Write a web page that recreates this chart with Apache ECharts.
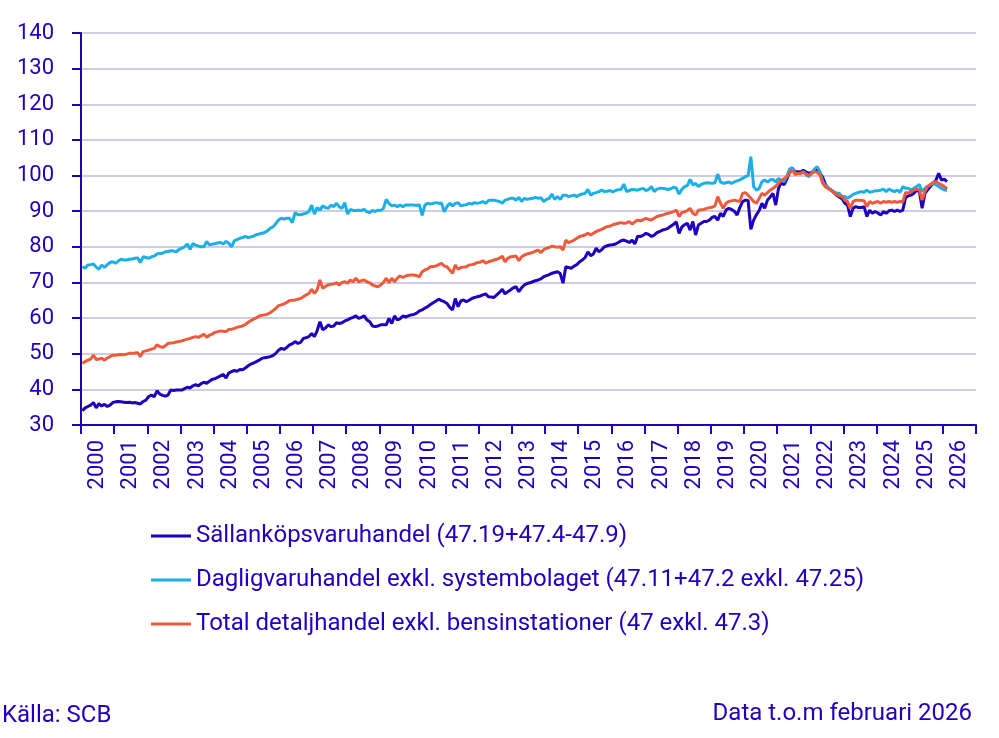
<!DOCTYPE html>
<html>
<head>
<meta charset="utf-8">
<script src="https://cdn.jsdelivr.net/npm/echarts@6/dist/echarts.min.js"></script>
<style>
html,body{margin:0;padding:0;background:#fff;}
#chart{width:999px;height:738px;}
</style>
</head>
<body>
<div id="chart"></div>
<script>
const years = ['2000','2001','2002','2003','2004','2005','2006','2007','2008','2009','2010','2011','2012','2013','2014','2015','2016','2017','2018','2019','2020','2021','2022','2023','2024','2025','2026'];

const seriesNames = [
  'Sällanköpsvaruhandel (47.19+47.4-47.9)',
  'Dagligvaruhandel exkl. systembolaget (47.11+47.2 exkl. 47.25)',
  'Total detaljhandel exkl. bensinstationer (47 exkl. 47.3)'
];

// Monthly index values, Jan 2000 - Feb 2026 (one line per year)
const sallankop = [
  34.0, 34.8, 35.2, 35.6, 36.3, 34.8, 36.0, 35.3, 35.8, 35.2, 35.6, 36.3,
  36.5, 36.6, 36.5, 36.4, 36.3, 36.4, 36.2, 36.3, 36.1, 35.9, 36.6, 37.0,
  38.0, 38.4, 37.9, 39.6, 38.7, 38.3, 38.1, 38.4, 39.8, 39.7, 39.8, 39.8,
  39.8, 40.2, 40.6, 40.4, 41.0, 41.3, 41.0, 41.6, 42.0, 41.7, 42.3, 42.8,
  43.0, 43.4, 43.8, 44.2, 43.2, 44.6, 45.0, 45.3, 45.1, 45.6, 45.5, 46.0,
  46.6, 47.1, 47.4, 47.8, 48.2, 48.7, 48.9, 49.0, 49.2, 49.5, 50.1, 51.0,
  51.5, 51.2, 51.8, 52.5, 52.8, 53.4, 52.9, 53.2, 54.3, 54.5, 54.8, 55.7,
  54.8, 56.5, 59.0, 56.7, 57.2, 58.1, 57.6, 57.8, 58.7, 58.5, 58.7, 59.2,
  59.5, 59.9, 60.2, 60.6, 59.9, 60.2, 60.6, 59.5, 59.0, 57.8, 57.6, 57.8,
  58.1, 58.1, 58.1, 59.9, 58.5, 60.6, 59.5, 59.8, 60.6, 60.3, 60.6, 60.9,
  61.0, 61.4, 62.0, 62.3, 62.8, 63.2, 63.8, 64.3, 64.8, 65.3, 64.9, 64.6,
  64.1, 63.0, 62.3, 65.5, 63.2, 64.8, 65.1, 64.6, 65.0, 65.5, 65.8, 66.0,
  66.2, 66.5, 66.8, 66.0, 65.9, 65.8, 66.5, 67.2, 68.1, 66.8, 67.4, 67.9,
  68.5, 68.8, 67.4, 68.5, 69.3, 69.7, 69.9, 70.2, 70.5, 70.7, 71.0, 71.6,
  71.9, 72.2, 72.6, 72.8, 73.0, 72.5, 69.8, 74.4, 74.2, 74.0, 74.6, 75.0,
  75.8, 76.3, 77.0, 78.6, 77.5, 78.0, 79.6, 78.6, 79.2, 80.0, 80.3, 80.5,
  80.6, 80.8, 81.2, 81.7, 81.9, 81.6, 81.2, 81.9, 80.8, 83.0, 82.9, 83.2,
  83.8, 83.5, 82.9, 83.3, 84.0, 84.3, 84.7, 84.9, 85.2, 85.8, 86.3, 87.0,
  83.8, 85.5, 86.2, 86.6, 84.7, 87.1, 83.3, 86.1, 86.6, 87.1, 87.1, 87.5,
  88.3, 88.5, 87.5, 89.4, 88.5, 90.3, 90.8, 90.5, 90.0, 88.9, 91.0, 92.7,
  93.1, 93.0, 84.9, 87.5, 89.0, 90.2, 92.2, 90.8, 93.1, 94.0, 95.0, 91.7,
  96.4, 98.0, 97.4, 99.0, 101.0, 102.0, 101.1, 101.1, 101.0, 101.5, 101.0, 100.6,
  100.9, 101.3, 101.6, 100.8, 99.5, 97.5, 96.4, 96.0, 95.3, 94.5, 94.0, 93.5,
  92.2, 91.7, 88.5, 90.8, 91.3, 91.0, 91.0, 91.3, 88.5, 90.3, 89.4, 89.9,
  89.5, 88.9, 89.9, 89.4, 90.1, 90.3, 89.9, 90.3, 89.9, 90.3, 93.8, 94.3,
  94.5, 95.0, 95.9, 95.5, 90.8, 95.0, 96.0, 96.9, 97.8, 98.7, 100.6, 98.7,
  99.0, 98.3
];

const dagligvaru = [
  74.4, 74.0, 74.9, 75.0, 75.2, 74.3, 73.7, 74.9, 74.2, 75.0, 75.6, 75.8,
  75.4, 76.0, 76.5, 76.3, 76.3, 76.5, 76.6, 76.8, 76.9, 75.6, 77.2, 77.0,
  76.8, 77.2, 77.4, 78.0, 78.1, 78.2, 78.6, 78.7, 78.9, 78.8, 78.6, 79.3,
  79.6, 80.0, 80.8, 79.3, 80.9, 80.5, 80.2, 80.0, 80.0, 81.5, 80.6, 80.7,
  80.9, 81.1, 81.2, 80.8, 81.5, 81.0, 80.0, 81.7, 82.0, 82.4, 82.6, 82.9,
  82.6, 82.8, 83.0, 83.4, 83.6, 83.8, 84.0, 84.5, 85.2, 85.6, 86.5, 87.5,
  88.0, 87.8, 88.0, 88.0, 86.8, 89.6, 89.0, 89.0, 89.2, 89.4, 89.9, 91.7,
  89.2, 91.0, 90.3, 91.5, 91.0, 90.8, 91.7, 91.3, 92.2, 91.2, 90.8, 92.4,
  89.2, 90.5, 90.2, 90.2, 90.3, 90.2, 90.5, 89.8, 89.6, 90.2, 89.9, 90.3,
  90.2, 90.8, 93.3, 92.2, 91.5, 91.7, 91.3, 91.7, 91.3, 91.7, 91.7, 91.7,
  91.7, 91.6, 91.8, 88.8, 91.7, 92.2, 92.0, 92.2, 92.4, 92.2, 92.3, 89.8,
  91.3, 92.2, 91.5, 92.2, 92.4, 91.5, 91.7, 91.8, 92.2, 92.0, 92.4, 92.2,
  92.4, 92.7, 92.2, 93.0, 93.1, 93.1, 92.9, 92.7, 92.2, 93.1, 93.3, 93.6,
  93.6, 93.1, 93.9, 92.7, 93.6, 93.3, 93.5, 93.6, 93.9, 93.6, 93.8, 92.7,
  93.3, 93.6, 94.8, 93.3, 94.1, 93.3, 94.5, 94.5, 94.1, 94.3, 94.5, 94.1,
  94.6, 94.8, 95.0, 96.1, 94.5, 95.0, 95.2, 95.5, 95.9, 95.5, 95.6, 95.8,
  95.4, 95.8, 96.0, 96.1, 97.6, 95.5, 95.8, 96.1, 96.0, 95.9, 96.2, 96.4,
  95.8, 96.1, 96.9, 95.5, 96.2, 96.4, 96.4, 96.3, 96.1, 96.3, 96.7, 96.5,
  94.8, 96.1, 96.9, 97.2, 98.9, 97.4, 97.8, 96.9, 97.5, 97.8, 98.0, 97.9,
  97.8, 98.0, 100.4, 98.2, 97.8, 98.0, 98.2, 97.8, 98.2, 98.5, 98.8, 99.2,
  99.7, 100.0, 105.3, 96.9, 95.9, 96.4, 98.2, 98.8, 98.2, 98.8, 98.9, 98.2,
  99.2, 98.6, 98.3, 99.7, 101.8, 102.2, 100.6, 100.6, 100.6, 101.1, 100.2, 99.7,
  100.6, 101.8, 102.5, 101.1, 98.3, 97.2, 96.6, 95.8, 95.5, 95.0, 95.0, 94.1,
  94.1, 93.6, 94.1, 94.7, 95.0, 95.3, 95.5, 95.3, 95.9, 95.3, 95.5, 95.7,
  95.7, 95.9, 96.2, 95.5, 96.2, 95.8, 95.5, 95.9, 95.3, 96.9, 96.4, 96.4,
  95.9, 96.4, 96.9, 97.5, 95.5, 96.4, 97.0, 97.4, 97.8, 97.4, 96.9, 96.4,
  96.0, 95.8
];

const totalDetalj = [
  47.3, 47.8, 48.2, 48.5, 49.6, 48.4, 48.5, 48.7, 48.2, 48.8, 49.2, 49.6,
  49.6, 49.7, 49.8, 49.7, 49.9, 50.1, 50.1, 50.2, 50.3, 49.2, 50.6, 50.8,
  51.0, 51.3, 51.5, 52.5, 52.0, 51.8, 52.2, 52.9, 53.0, 53.1, 53.3, 53.4,
  53.6, 53.9, 54.1, 54.3, 54.6, 54.8, 54.6, 55.0, 55.5, 54.6, 55.2, 55.5,
  56.0, 56.2, 56.4, 56.3, 56.2, 56.8, 56.9, 57.1, 57.4, 57.6, 57.8, 58.2,
  58.8, 59.3, 59.7, 60.1, 60.6, 60.8, 60.9, 61.1, 61.5, 62.1, 62.7, 63.5,
  63.7, 64.0, 64.4, 64.9, 65.0, 65.1, 65.3, 65.5, 66.0, 66.5, 66.9, 68.1,
  66.9, 68.0, 70.7, 68.4, 68.9, 69.3, 69.5, 69.6, 69.9, 69.3, 70.0, 70.2,
  69.8, 70.7, 70.2, 71.2, 70.2, 70.5, 70.7, 70.2, 69.9, 69.3, 69.0, 68.8,
  69.3, 70.0, 71.2, 69.9, 71.2, 70.2, 71.2, 71.8, 71.4, 71.8, 72.0, 72.1,
  72.1, 71.9, 71.6, 73.0, 73.5, 73.8, 74.4, 74.5, 74.6, 75.0, 75.4, 74.6,
  74.4, 73.5, 72.6, 74.9, 73.7, 74.2, 74.3, 74.4, 74.9, 75.0, 75.2, 75.6,
  75.7, 76.1, 75.4, 75.8, 76.0, 76.3, 76.5, 76.8, 77.4, 75.8, 76.8, 77.2,
  77.3, 77.4, 76.1, 77.2, 77.7, 78.0, 78.2, 78.4, 78.8, 79.1, 78.4, 79.2,
  79.6, 79.8, 80.2, 80.0, 79.9, 80.0, 79.1, 81.9, 81.2, 81.5, 81.9, 82.4,
  82.9, 83.1, 83.3, 83.8, 83.3, 83.8, 84.3, 84.6, 84.9, 85.3, 85.7, 85.8,
  86.2, 86.4, 86.6, 86.8, 86.6, 86.7, 87.1, 86.4, 87.0, 87.5, 87.3, 87.6,
  88.0, 87.7, 87.5, 88.0, 88.5, 88.7, 88.9, 89.2, 89.4, 89.6, 89.9, 90.3,
  88.5, 89.6, 89.8, 90.2, 90.8, 89.4, 88.9, 90.3, 90.4, 90.5, 90.8, 91.0,
  91.1, 91.5, 94.1, 92.2, 90.8, 92.2, 92.7, 92.9, 93.1, 92.9, 92.7, 95.0,
  95.2, 94.5, 93.6, 92.7, 92.2, 93.6, 95.0, 94.5, 95.2, 95.9, 96.4, 97.0,
  97.8, 98.6, 99.1, 99.8, 100.6, 101.6, 100.3, 100.6, 100.6, 100.9, 100.5, 100.0,
  100.6, 101.1, 100.9, 100.2, 97.8, 96.8, 96.4, 95.9, 95.2, 94.7, 94.3, 94.1,
  93.1, 92.7, 90.8, 92.7, 93.1, 93.1, 93.0, 92.9, 91.3, 92.7, 92.2, 92.5,
  92.7, 92.2, 92.7, 92.5, 92.7, 92.5, 92.7, 92.5, 92.7, 92.6, 95.3, 95.0,
  95.5, 95.9, 96.2, 96.0, 93.1, 95.5, 96.9, 97.5, 98.1, 98.3, 97.8, 97.4,
  96.9, 96.3
];

const sourceText = 'Källa: SCB';
const dataNote = 'Data t.o.m februari 2026';

// monthly category slots spanning the same width as the yearly axis
const months = [];
years.forEach(y => { for (let m = 1; m <= 12; m++) months.push(y + '-' + (m < 10 ? '0' + m : m)); });

const TEXT = '#1E00BE';
const colors = ['#1E00BE', '#1AAFE6', '#F05A3C'];
const FONT = 'Roboto';

const chart = echarts.init(document.getElementById('chart'), null, {renderer: 'canvas'});
chart.setOption({
  animation: false,
  backgroundColor: '#ffffff',
  color: colors,
  textStyle: {fontFamily: FONT},
  grid: {left: 81, right: 23, top: 33, bottom: 313, containLabel: false},
  legend: {
    orient: 'vertical',
    left: 146,
    top: 519,
    icon: 'rect',
    itemWidth: 40,
    itemHeight: 3,
    itemGap: 20,
    textStyle: {fontSize: 24, color: TEXT, fontFamily: FONT},
    data: seriesNames
  },
  xAxis: [
    {
      type: 'category',
      data: years,
      boundaryGap: true,
      axisLine: {show: true, lineStyle: {color: TEXT, width: 2}},
      axisTick: {show: true, interval: 0, length: 9, lineStyle: {color: TEXT, width: 2}},
      axisLabel: {interval: 0, rotate: 90, fontSize: 22, color: TEXT, margin: 15, fontFamily: FONT},
      splitLine: {show: false}
    },
    {
      type: 'category',
      data: months,
      boundaryGap: true,
      show: false
    }
  ],
  yAxis: {
    type: 'value',
    min: 30,
    max: 140,
    interval: 10,
    axisLine: {show: true, lineStyle: {color: TEXT, width: 2}},
    axisTick: {show: true, length: 9, lineStyle: {color: TEXT, width: 2}},
    axisLabel: {fontSize: 22, color: TEXT, margin: 27, fontFamily: FONT},
    splitLine: {show: true, lineStyle: {color: '#CDCDE8', width: 2}}
  },
  series: [
    {name: seriesNames[0], type: 'line', xAxisIndex: 1, data: sallankop, showSymbol: false, lineStyle: {width: 3, color: colors[0]}, itemStyle: {color: colors[0]}},
    {name: seriesNames[1], type: 'line', xAxisIndex: 1, data: dagligvaru, showSymbol: false, lineStyle: {width: 3, color: colors[1]}, itemStyle: {color: colors[1]}},
    {name: seriesNames[2], type: 'line', xAxisIndex: 1, data: totalDetalj, showSymbol: false, lineStyle: {width: 3, color: colors[2]}, itemStyle: {color: colors[2]}}
  ],
  graphic: [
    {type: 'text', left: 2, top: 704, style: {text: sourceText, fontSize: 24, fill: TEXT, fontFamily: FONT}},
    {type: 'text', right: 27, top: 702, style: {text: dataNote, fontSize: 24, fill: TEXT, fontFamily: FONT}}
  ]
});
</script>
</body>
</html>
